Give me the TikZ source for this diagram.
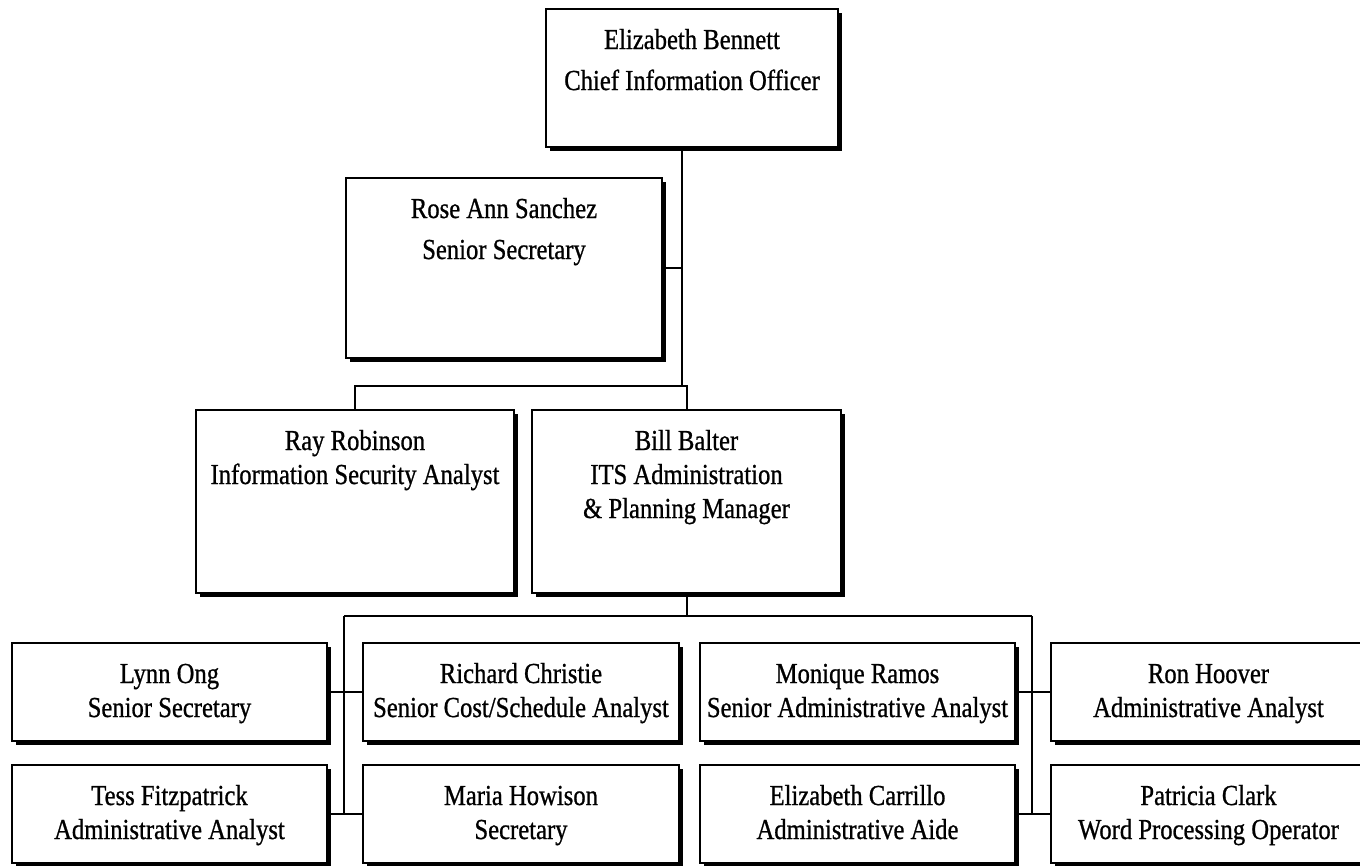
\documentclass[tikz,border=0pt]{standalone}
\usepackage{fontspec}
\setmainfont[FakeStretch=0.85, FakeBold=0.8]{Liberation Serif}
\usetikzlibrary{positioning, shadows}

\begin{document}
\begin{tikzpicture}[x=1pt, y=-1pt,
    person/.style n args={2}{draw, line width=2pt, fill=white, anchor=north west,
      inner xsep=0pt, inner ysep=20pt, text width=#1, align=flush center,
      text height=20pt, text depth=#2,
      drop shadow={shadow xshift=4pt, shadow yshift=-4pt, fill=black, opacity=1}},
    upper/.style={font=\fontsize{29}{41}\selectfont},
    lower/.style={font=\fontsize{29}{34}\selectfont},
    link/.style={line width=2pt}]
  \useasboundingbox[fill=white] (0,0) rectangle (1360,865);

  % top of the chart
  \node[person={292pt}{78pt}, upper] (cio) at (545,8)
    {Elizabeth Bennett\\Chief Information Officer};
  \node[person={316pt}{120pt}, upper] (rose) at (345,177)
    {Rose Ann Sanchez\\Senior Secretary};
  \node[person={318pt}{123pt}, lower] (ray) at (195,409)
    {Ray Robinson\\Information Security Analyst};
  \node[person={309pt}{123pt}, lower] (bill) at (531,409)
    {Bill Balter\\ITS Administration\\\& Planning Manager};

  % staff, first row
  \node[person={315pt}{38pt}, lower] (lynn) at (11,642)
    {Lynn Ong\\Senior Secretary};
  \node[person={316pt}{38pt}, lower] (richard) at (362,642)
    {Richard Christie\\Senior Cost/Schedule Analyst};
  \node[person={315pt}{38pt}, lower] (monique) at (699,642)
    {Monique Ramos\\Senior Administrative Analyst};
  \node[person={315pt}{38pt}, lower] (ron) at (1050,642)
    {Ron Hoover\\Administrative Analyst};

  % staff, second row
  \node[person={315pt}{38pt}, lower] (tess) at (11,764)
    {Tess Fitzpatrick\\Administrative Analyst};
  \node[person={316pt}{38pt}, lower] (maria) at (362,764)
    {Maria Howison\\Secretary};
  \node[person={315pt}{38pt}, lower] (carrillo) at (699,764)
    {Elizabeth Carrillo\\Administrative Aide};
  \node[person={315pt}{38pt}, lower] (clark) at (1050,764)
    {Patricia Clark\\Word Processing Operator};

  % joints of the lines
  \coordinate (jtop) at (682,386);
  \coordinate (jleft) at (344,616);
  \coordinate (jright) at (1032,616);

  \draw[link] (cio.south -| jtop) -- (jtop);
  \draw[link] (rose.east) -- (rose.east -| jtop);
  \draw[link] (ray.north) |- (bill.north |- jtop) -- (bill.north);
  \draw[link] (bill.south) -- (bill.south |- jleft);
  \draw[link] (jleft) -- (jright);
  \draw[link] (jleft) -- (jleft |- tess.east);
  \draw[link] (jright) -- (jright |- clark.west);
  \draw[link] (lynn.east) -- (richard.west);
  \draw[link] (tess.east) -- (maria.west);
  \draw[link] (monique.east) -- (ron.west);
  \draw[link] (carrillo.east) -- (clark.west);
\end{tikzpicture}
\end{document}
